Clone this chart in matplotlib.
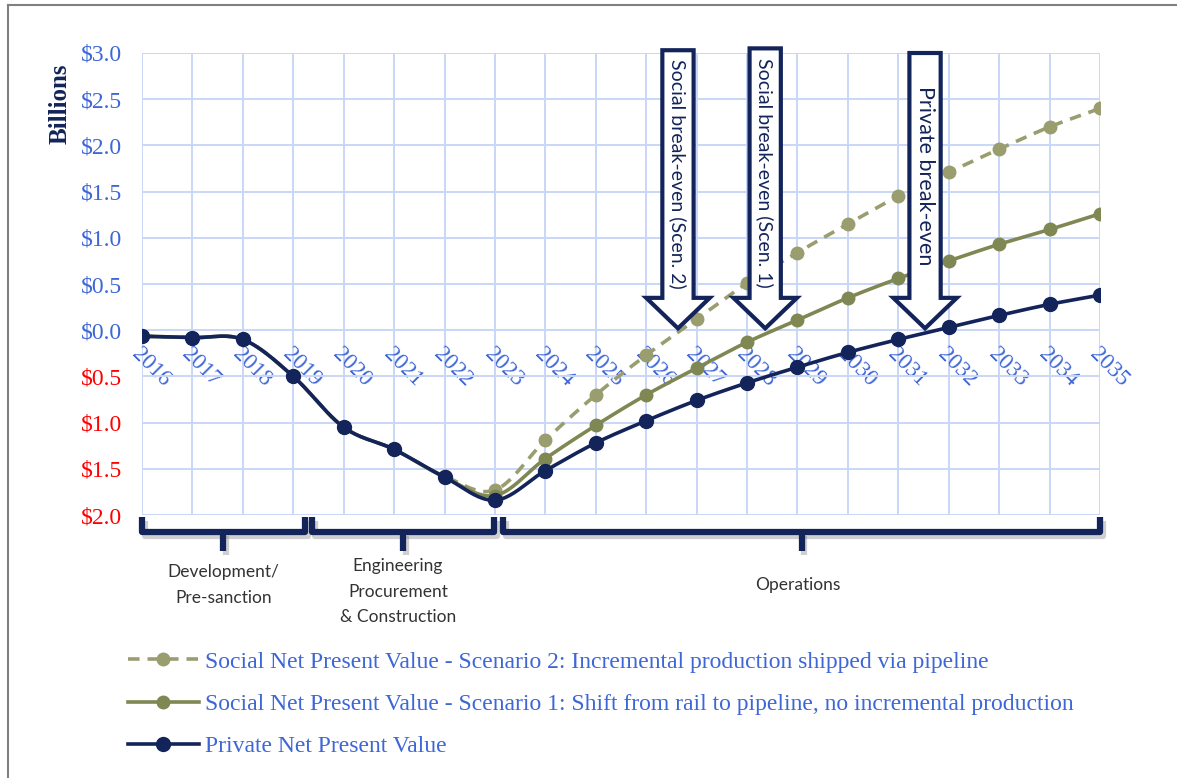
import matplotlib.pyplot as plt
import matplotlib.patheffects as pe
import numpy as np
from matplotlib.lines import Line2D
from matplotlib.patches import Polygon

years = list(range(2016, 2036))

private_npv = [-0.065, -0.08, -0.10, -0.50, -1.05, -1.29, -1.59, -1.84, -1.52, -1.22,
               -0.98, -0.76, -0.57, -0.40, -0.24, -0.10, 0.03, 0.16, 0.28, 0.38]
social_scen1 = [-0.065, -0.08, -0.10, -0.50, -1.05, -1.29, -1.59, -1.79, -1.39, -1.03,
                -0.70, -0.41, -0.13, 0.11, 0.35, 0.56, 0.75, 0.93, 1.09, 1.26]
social_scen2 = [-0.065, -0.08, -0.10, -0.50, -1.05, -1.29, -1.58, -1.73, -1.19, -0.70,
                -0.27, 0.12, 0.51, 0.84, 1.15, 1.45, 1.71, 1.96, 2.20, 2.40]

series_labels = [
    "Social Net Present Value - Scenario 2: Incremental production shipped via pipeline",
    "Social Net Present Value - Scenario 1: Shift from rail to pipeline, no incremental production",
    "Private Net Present Value",
]

break_even_labels = ["Social break-even (Scen. 2)", "Social break-even (Scen. 1)", "Private break-even"]
break_even_years = [2026.63, 2028.36, 2031.53]

phase_labels = ["Development/\nPre-sanction", "Engineering\nProcurement\n& Construction", "Operations"]
phase_spans = [(2016.0, 2019.23), (2019.37, 2022.98), (2023.16, 2035.0)]

NAVY = "#13245A"
OLIVE = "#7F8753"
OLIVE_LIGHT = "#9A9D6E"
BLUE = "#3D66D6"
RED = "#FF0000"
GRID = "#C9D6F6"


def smooth(x, y, n=24):
    # Catmull-Rom spline through the points, like a spreadsheet "smoothed line"
    x = np.asarray(x, float)
    y = np.asarray(y, float)
    px = np.concatenate([[2 * x[0] - x[1]], x, [2 * x[-1] - x[-2]]])
    py = np.concatenate([[2 * y[0] - y[1]], y, [2 * y[-1] - y[-2]]])
    t = np.linspace(0, 1, n, endpoint=False)
    xs, ys = [], []
    for i in range(1, len(px) - 2):
        for p, out in ((px, xs), (py, ys)):
            p0, p1, p2, p3 = p[i - 1], p[i], p[i + 1], p[i + 2]
            out.extend(0.5 * (2 * p1 + (-p0 + p2) * t + (2 * p0 - 5 * p1 + 4 * p2 - p3) * t ** 2
                              + (-p0 + 3 * p1 - 3 * p2 + p3) * t ** 3))
    xs.append(x[-1])
    ys.append(y[-1])
    return np.array(xs), np.array(ys)


fig = plt.figure(figsize=(11.77, 7.78), dpi=100)
ax = fig.add_axes([142 / 1177, 1 - 515 / 778, (1100 - 142) / 1177, (515 - 53) / 778])

styles = [
    (social_scen2, OLIVE_LIGHT, (0, (3.2, 2.2)), 9, 3),
    (social_scen1, OLIVE, "-", 9, 4),
    (private_npv, NAVY, "-", 10, 5),
]
handles = []
for vals, color, ls, ms, z in styles:
    sx, sy = smooth(years, vals)
    ax.plot(sx, sy, color=color, lw=2.6, ls=ls, zorder=z, solid_capstyle="round")
    ax.plot(years, vals, "o", color=color, ms=ms, zorder=z)
    handles.append(Line2D([], [], color=color, lw=2.6, ls=ls, marker="o", ms=ms))

# x axis sits on the zero line; set before tick labels since it resets ticks
ax.spines["bottom"].set_position(("data", 0))
for s in ax.spines.values():
    s.set_visible(False)

ax.set_xlim(2016, 2035)
ax.set_ylim(-2.0, 3.0)
ax.set_xticks(years)
ax.set_xticklabels([str(y) for y in years], rotation=-45, ha="left", va="top",
                   rotation_mode="anchor", fontsize=16.5, color=BLUE, family="Liberation Serif")
yticks = np.arange(-2.0, 3.01, 0.5)
ax.set_yticks(yticks)
ax.set_yticklabels(["$%.1f" % abs(v) for v in yticks], fontsize=17, family="Liberation Serif")
for lab, v in zip(ax.get_yticklabels(), yticks):
    lab.set_color(BLUE if v >= -0.01 else RED)
ax.tick_params(axis="x", length=0, pad=10)
ax.tick_params(axis="y", length=0, pad=14)
ax.grid(True, color=GRID, lw=1.4)
ax.set_axisbelow(True)

fig.text(60 / 1177, 1 - 104 / 778, "Billions", rotation=90, ha="center", va="center",
         fontsize=18, fontweight="bold", color=NAVY, family="Liberation Serif")

# block arrows marking the break-even years
shaft_hw, head_hw, head_len = 0.31, 0.63, 0.33
tops = [3.03, 3.05, 3.0]
sizes = [14, 14, 15.5]
for bx, top, label, fs in zip(break_even_years, tops, break_even_labels, sizes):
    tip = 0.02
    neck = tip + head_len
    pts = [(bx - shaft_hw, top), (bx + shaft_hw, top), (bx + shaft_hw, neck), (bx + head_hw, neck),
           (bx, tip), (bx - head_hw, neck), (bx - shaft_hw, neck)]
    ax.add_patch(Polygon(pts, closed=True, fc="white", ec=NAVY, lw=3, zorder=8,
                         clip_on=False, joinstyle="miter"))
    ax.text(bx, (top + neck) / 2, label, rotation=-90, ha="center", va="center",
            fontsize=fs, color=NAVY, family="Lato", zorder=9)

# phase braces under the plot
fig.canvas.draw()
to_fig = ax.transData + fig.transFigure.inverted()


def fx(xval):
    return to_fig.transform((xval, 0))[0]


def fy(px):
    return 1 - px / 778


shadow = [pe.SimpleLineShadow(offset=(2, -3), shadow_color="#777777", alpha=0.35), pe.Normal()]
text_tops = [564, 558, 577]
text_shift = [0, -5, -4]
for (x0, x1), label, ttop, dx in zip(phase_spans, phase_labels, text_tops, text_shift):
    a, b = fx(x0), fx(x1)
    c = (a + b) / 2
    fig.add_artist(Line2D([a, a, b, b], [fy(517), fy(532), fy(532), fy(517)], color=NAVY, lw=4.5,
                          solid_joinstyle="round", solid_capstyle="butt", path_effects=shadow))
    fig.add_artist(Line2D([c, c], [fy(532), fy(551)], color=NAVY, lw=4.5,
                          solid_capstyle="butt", path_effects=shadow))
    fig.text(c + dx / 1177, fy(ttop), label, ha="center", va="top", fontsize=12.5,
             color="#333333", family="Lato", linespacing=1.75)

fig.legend(handles, series_labels, loc="upper left", bbox_to_anchor=(128 / 1177, fy(651)),
           frameon=False, handlelength=3.0, handletextpad=0.25,
           labelspacing=0.88, borderpad=0, borderaxespad=0,
           prop={"family": "Liberation Serif", "size": 17}, labelcolor=BLUE)

# thin frame along the top and left edges
fig.add_artist(Line2D([8 / 1177, 8 / 1177], [0, fy(5)], color="#808080", lw=1.5))
fig.add_artist(Line2D([8 / 1177, 1], [fy(5), fy(5)], color="#808080", lw=1.5))

fig.savefig("out.png", dpi=100)
